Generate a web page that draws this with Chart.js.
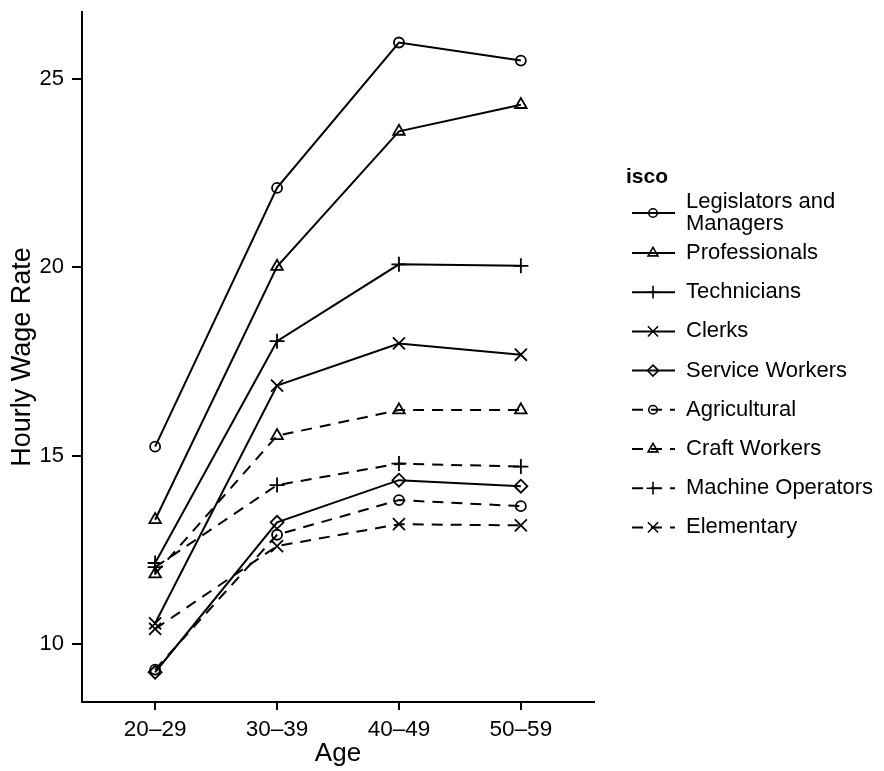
<!DOCTYPE html>
<html>
<head>
<meta charset="utf-8">
<script src="https://cdn.jsdelivr.net/npm/chart.js@4"></script>
<style>
  body { margin: 0; background: #fff; }
  canvas { display: block; }
</style>
</head>
<body>
<canvas id="myChart" width="884" height="771"></canvas>
<script>
// age groups on the x axis and the y ticks
const ageGroups = ['20\u201329', '30\u201339', '40\u201349', '50\u201359']
const yTicks = [10, 15, 20, 25]

// hourly wage by occupation (isco)
const legislators = [15.24, 22.11, 25.97, 25.49]
const professionals = [13.30, 20.02, 23.61, 24.32]
const technicians = [12.15, 18.04, 20.08, 20.04]
const clerks = [10.55, 16.86, 17.98, 17.68]
const serviceWorkers = [9.25, 13.23, 14.35, 14.19]
const agricultural = [9.32, 12.90, 13.82, 13.66]
const craftWorkers = [11.86, 15.53, 16.21, 16.21]
const machineOperators = [12.04, 14.22, 14.79, 14.71]
const elementary = [10.40, 12.60, 13.18, 13.15]

const FONT = '"Liberation Sans", Arial, Helvetica, sans-serif'

Chart.defaults.color = '#000'
Chart.defaults.font.family = FONT

// name, values, marker, marker radius, dashed?
const series = [
	['Legislators and\nManagers', legislators, 'circle', 5, false],
	['Professionals', professionals, 'triangle', 6.7, false],
	['Technicians', technicians, 'cross', 7.5, false],
	['Clerks', clerks, 'crossRot', 8.5, false],
	['Service Workers', serviceWorkers, 'rectRot', 6.5, false],
	['Agricultural', agricultural, 'circle', 5, true],
	['Craft Workers', craftWorkers, 'triangle', 6.7, true],
	['Machine Operators', machineOperators, 'cross', 7.5, true],
	['Elementary', elementary, 'crossRot', 8.5, true]
]

const DASH = [11, 8]

const datasets = series.map(function (s) {
	return {
		label: s[0],
		data: s[1].map(function (v, i) { return {x: i + 1, y: v} }),
		borderColor: '#000',
		borderWidth: 2,
		borderDash: s[4] ? DASH : [],
		pointStyle: s[2],
		pointRadius: s[3],
		pointHoverRadius: s[3],
		pointBorderWidth: 1.8,
		pointBorderColor: '#000',
		pointBackgroundColor: 'rgba(0,0,0,0)',
		fill: false,
		tension: 0
	}
})

// legend drawn by hand so each entry gets line + marker like the original
const iscoLegend = {
	id: 'iscoLegend',
	afterDraw(chart) {
		const ctx = chart.ctx
		ctx.save()
		ctx.fillStyle = '#000'
		ctx.textBaseline = 'middle'
		ctx.textAlign = 'left'
		ctx.font = 'bold 21px ' + FONT
		ctx.fillText('isco', 626, 177)

		ctx.font = '22px ' + FONT
		series.forEach(function (s, i) {
			const y = i === 0 ? 213 : 253 + (i - 1) * 39.2
			ctx.strokeStyle = '#000'
			ctx.lineWidth = 2
			ctx.setLineDash(s[4] ? DASH : [])
			ctx.beginPath()
			ctx.moveTo(632, y)
			ctx.lineTo(675, y)
			ctx.stroke()
			ctx.setLineDash([])
			ctx.lineWidth = 1.6
			ctx.fillStyle = 'rgba(0,0,0,0)'
			Chart.helpers.drawPoint(ctx, {
				pointStyle: s[2], radius: s[3] * 0.85, borderWidth: 1.6, rotation: 0
			}, 653, y)
			ctx.fillStyle = '#000'
			const lines = s[0].split('\n')
			if (lines.length === 2) {
				ctx.fillText(lines[0], 686, y - 11)
				ctx.fillText(lines[1], 686, y + 11)
			} else {
				ctx.fillText(lines[0], 686, y)
			}
		})
		ctx.restore()
	}
}

const ctx = document.getElementById('myChart').getContext('2d')

const myChart = new Chart(ctx, {
	type: 'line',
	data: { datasets: datasets },
	plugins: [iscoLegend],
	options: {
		responsive: false,
		animation: false,
		layout: { padding: { top: 12, right: 290, left: 0, bottom: 0 } },
		plugins: {
			legend: { display: false },
			tooltip: { enabled: false }
		},
		scales: {
			x: {
				type: 'linear',
				min: 0.4,
				max: 4.6,
				afterBuildTicks: function (scale) {
					scale.ticks = ageGroups.map(function (a, i) { return {value: i + 1} })
				},
				afterFit: function (scale) { scale.height = 69 },
				ticks: {
					font: { size: 22.5 },
					padding: 6,
					maxRotation: 0,
					callback: function (v) { return ageGroups[v - 1] }
				},
				grid: { drawOnChartArea: false, drawTicks: true, tickLength: 8, color: '#000', lineWidth: 2 },
				border: { display: true, color: '#000', width: 2 },
				title: {
					display: true,
					text: 'Age',
					font: { size: 26, lineHeight: 1.2 },
					padding: { top: 0, bottom: 2 }
				}
			},
			y: {
				min: 8.46,
				max: 26.78,
				afterBuildTicks: function (scale) {
					scale.ticks = yTicks.map(function (v) { return {value: v} })
				},
				afterFit: function (scale) {
					scale.width = 82
					scale.paddingTop = 0
					scale.paddingBottom = 0
				},
				ticks: { font: { size: 22 }, padding: 8 },
				grid: { drawOnChartArea: false, drawTicks: true, tickLength: 10, color: '#000', lineWidth: 2 },
				border: { display: true, color: '#000', width: 2 },
				title: {
					display: true,
					text: 'Hourly Wage Rate',
					font: { size: 27, lineHeight: 1.2 },
					padding: { top: 6, bottom: 0 }
				}
			}
		}
	}
})

myChart.update()
</script>
</body>
</html>
